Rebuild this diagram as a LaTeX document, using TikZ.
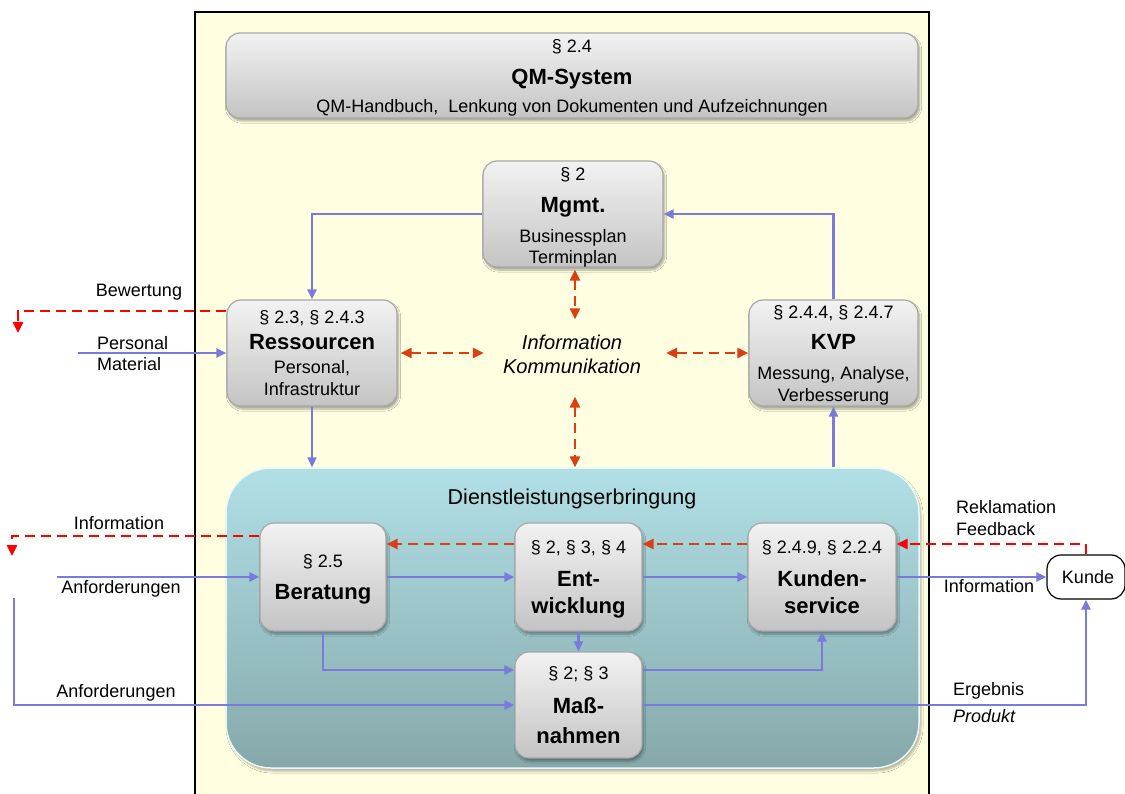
\documentclass[tikz,border=0pt]{standalone}
\usepackage{fontspec}
\setmainfont{Liberation Sans}
\usetikzlibrary{arrows.meta,shadows.blur}
\definecolor{panel}{RGB}{255,254,224}
\definecolor{flowblue}{RGB}{122,122,220}
\definecolor{orangered}{RGB}{218,62,18}
\definecolor{brightred}{RGB}{255,0,0}
\definecolor{boxtop}{RGB}{242,242,242}
\definecolor{boxbot}{RGB}{196,196,196}
\definecolor{boxline}{RGB}{168,168,168}
\definecolor{dltop}{RGB}{176,224,230}
\definecolor{dlbot}{RGB}{134,168,170}
\begin{document}
\begin{tikzpicture}[x=1pt,y=-1pt,
  box/.style={draw=boxline, line width=1.2pt, rounded corners=14pt, top color=boxtop, bottom color=boxbot,
    blur shadow={shadow xshift=1.5pt, shadow yshift=-3pt, shadow blur steps=6, shadow opacity=35}, inner sep=0pt},
  dlbox/.style={draw=white!75!dltop, line width=1.5pt, rounded corners=45pt, top color=dltop, bottom color=dlbot,
    blur shadow={shadow xshift=2pt, shadow yshift=-3pt, shadow blur steps=6, shadow opacity=30}, inner sep=0pt},
  kbox/.style={draw=black, line width=1.2pt, rounded corners=14pt, fill=white, inner sep=0pt},
  area/.style={inner sep=0pt},
  lbl/.style={inner sep=0pt, font=\fontsize{18}{21}\selectfont, text height=13pt, text depth=0pt},
  blbl/.style={inner sep=0pt, font=\fontsize{22}{26}\selectfont\bfseries, text height=16pt, text depth=0pt},
  ilbl/.style={inner sep=0pt, font=\fontsize{20}{24}\selectfont\itshape, text height=14.5pt, text depth=0pt},
  tlbl/.style={inner sep=0pt, font=\fontsize{21.5}{26}\selectfont, text height=15.5pt, text depth=0pt},
  flow/.style={draw=flowblue, line width=2.3pt, -{Triangle[length=10pt,width=9pt]}},
  dflow/.style={draw=orangered, line width=2.5pt, dash pattern=on 10pt off 6pt,
    {Triangle[length=11pt,width=10pt]}-{Triangle[length=11pt,width=10pt]}},
  oflow/.style={draw=orangered, line width=2.5pt, dash pattern=on 10pt off 6pt, -{Triangle[length=11pt,width=10pt]}},
  rflow/.style={draw=brightred, line width=2.5pt, dash pattern=on 10pt off 6pt, -{Triangle[length=11pt,width=10pt]}}
]
\useasboundingbox (0,0) rectangle (1125,794);
\clip (0,0) rectangle (1125,794);
\fill[white] (0,0) rectangle (1125,794);
\fill[panel] (195,12) rectangle (929,800);
\draw[black, line width=2pt] (195,800) -- (195,12) -- (929,12) -- (929,800);

% helper levels
\coordinate (h311) at (0,311);
\coordinate (h536) at (0,536);
\coordinate (h544) at (0,544);
\coordinate (h670) at (0,670);

% boxes
\node[box, minimum width=692, minimum height=85] (qm) at (572,75.5) {};
\node[lbl] (qmA) at (572,46) {§ 2.4};
\node[blbl] (qmB) at (572,77) {QM-System};
\node[lbl] (qmC) at (572,106) {QM-Handbuch, \ Lenkung von Dokumenten und Aufzeichnungen};

\node[box, minimum width=180, minimum height=106] (mg) at (573,214) {};
\node[lbl] (mgA) at (573,174) {§ 2};
\node[blbl] (mgB) at (573,205) {Mgmt.};
\node[lbl] (mgC) at (573,236) {Businessplan};
\node[lbl] (mgD) at (573,257) {Terminplan};

\node[box, minimum width=170, minimum height=106] (res) at (312,353) {};
\node[lbl] (resA) at (312,317) {§ 2.3, § 2.4.3};
\node[blbl] (resB) at (312,342) {Ressourcen};
\node[lbl] (resC) at (312,367) {Personal,};
\node[lbl] (resD) at (312,389) {Infrastruktur};

\node[box, minimum width=169, minimum height=106] (kvp) at (833.5,353) {};
\node[lbl] (kvpA) at (833.5,312) {§ 2.4.4, § 2.4.7};
\node[blbl] (kvpB) at (833.5,342) {KVP};
\node[lbl] (kvpC) at (833.5,373) {Messung, Analyse,};
\node[lbl] (kvpD) at (833.5,395) {Verbesserung};

\node[area, minimum width=182, minimum height=77] (info) at (575,358) {};
\node[ilbl] (infoA) at (572,342) {Information};
\node[ilbl] (infoB) at (572,366) {Kommunikation};

\node[dlbox, minimum width=693, minimum height=300] (dl) at (572.5,618) {};
\node[tlbl] (dlA) at (572,497) {Dienstleistungserbringung};

\node[box, minimum width=126, minimum height=108] (ber) at (323,577) {};
\node[lbl] (berA) at (323,561) {§ 2.5};
\node[blbl] (berB) at (323,591) {Beratung};

\node[box, minimum width=127, minimum height=108] (ent) at (578.5,577) {};
\node[lbl] (entA) at (578.5,547) {§ 2, § 3, § 4};
\node[blbl] (entB) at (578.5,578) {Ent-};
\node[blbl] (entC) at (578.5,605) {wicklung};

\node[box, minimum width=148, minimum height=108] (ks) at (822,577) {};
\node[lbl] (ksA) at (822,547) {§ 2.4.9, § 2.2.4};
\node[blbl] (ksB) at (822,578) {Kunden-};
\node[blbl] (ksC) at (822,605) {service};

\node[box, minimum width=127, minimum height=106] (mn) at (578.5,705) {};
\node[lbl] (mnA) at (578.5,673) {§ 2; § 3};
\node[blbl] (mnB) at (578.5,705) {Maß-};
\node[blbl] (mnC) at (578.5,735) {nahmen};

\node[kbox, minimum width=78, minimum height=44] (kunde) at (1086,577) {};
\node[lbl] (kundeA) at (1088,577) {Kunde};

% outside labels
\node[lbl] (lBew) at (139,290) {Bewertung};
\node[lbl, anchor=west] (lPers) at (97,343) {Personal};
\node[lbl, anchor=west] (lMat) at (97,364) {Material};
\node[lbl] (lInfL) at (119,523) {Information};
\node[lbl] (lAnf1) at (121,587) {Anforderungen};
\node[lbl] (lAnf2) at (116,691) {Anforderungen};
\node[lbl, anchor=west] (lRek) at (956,507) {Reklamation};
\node[lbl, anchor=west] (lFee) at (956,529) {Feedback};
\node[lbl] (lInfR) at (989,586) {Information};
\node[lbl, anchor=west] (lErg) at (953,689) {Ergebnis};
\node[ilbl, anchor=west, font=\fontsize{18}{21}\selectfont\itshape, text height=13pt] (lProd) at (953,716) {Produkt};

% free ends
\coordinate (bewEnd) at (18,333);
\coordinate (persStart) at (78,353);
\coordinate (infEnd) at (12,556);
\coordinate (anf1Start) at (57,577);
\coordinate (anf2Start) at (14,598);

% blue flows
\draw[flow] (mg.west) -| (res.north);
\draw[flow] (kvp.north) |- (mg.east);
\draw[flow] (res.south) -- (res.south |- dl.north);
\draw[flow] (kvp.south |- dl.north) -- (kvp.south);
\draw[flow] (persStart) -- (res.west);
\draw[flow] (anf1Start) -- (ber.west);
\draw[flow] (anf2Start) |- (mn.west);
\draw[flow] (ber.east) -- (ent.west);
\draw[flow] (ent.east) -- (ks.west);
\draw[flow] (ks.east) -- (kunde.west);
\draw[flow] (ent.south) -- (mn.north);
\draw[flow] (ber.south) |- (mn.west |- h670);
\draw[flow] (mn.east |- h670) -| (ks.south);
\draw[flow] (mn.east) -| (kunde.south);

% dashed information flows
\draw[dflow, shorten <=2pt] (info.north |- mg.south) -- (info.north);
\draw[dflow] (info.south) -- (info.south |- dl.north);
\draw[dflow, shorten <=3pt] (res.east) -- (info.west |- res.east);
\draw[dflow] (info.east |- kvp.west) -- (kvp.west);
\draw[oflow] (ks.west |- h544) -- (ent.east |- h544);
\draw[oflow] (ent.west |- h544) -- (ber.east |- h544);
\draw[rflow] (kunde.north) |- (ks.east |- h544);
\draw[rflow] (res.west |- h311) -| (bewEnd);
\draw[rflow] (ber.west |- h536) -| (infEnd);
\end{tikzpicture}
\end{document}
